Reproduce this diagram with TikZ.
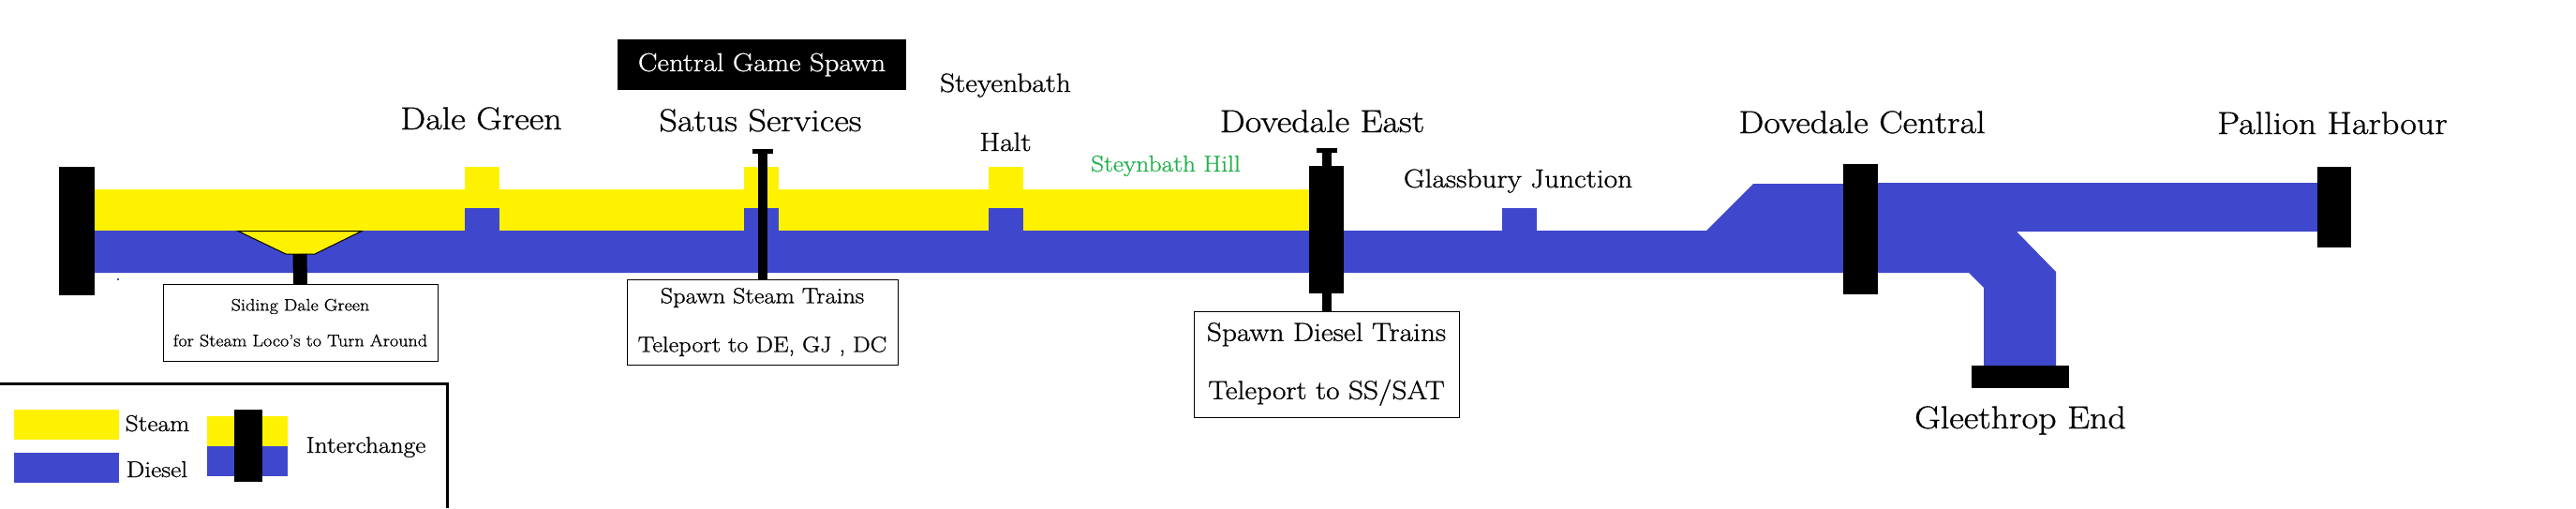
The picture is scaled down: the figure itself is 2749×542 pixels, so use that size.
\documentclass[tikz,border=0pt]{standalone}
\usepackage{tikz}
\usepackage{fontspec}
\setmainfont{Latin Modern Roman}[FakeBold=0.9, FakeStretch=1.12]
\definecolor{steamcol}{HTML}{FFF200}
\definecolor{dieselcol}{HTML}{3F48CC}
\definecolor{hillcol}{HTML}{22B14C}
\tikzset{
bar/.style={
	  fill=black, inner sep=0pt, outer sep=0pt},
stem/.style={
	  line width=10pt, black},
station/.style={
	  anchor=base, inner sep=0pt, font=\fontsize{34}{34}\selectfont},
halt/.style={
	  anchor=base, inner sep=0pt, font=\fontsize{28}{28}\selectfont},
keytext/.style={
	  anchor=base, inner sep=0pt, font=\fontsize{24.5}{24.5}\selectfont},
infobox/.style={
	  draw, fill=white, line width=1pt, align=center, inner sep=0pt, outer sep=0pt}
}
\newcommand{\stopstub}[2]{
	\fill[#2] (#1,178) rectangle ++(37,68);
	\fill[dieselcol] (#1,222) rectangle ++(37,24);
}

\begin{document}
\begin{tikzpicture}[x=1pt, y=-1pt]
	\useasboundingbox (0,0) rectangle (2749,542);
	\fill[steamcol] (101,202) rectangle (1397,246);
	\fill[dieselcol] (101,246) -- (1821,246) -- (1871,196) -- (1985,196) -- (1985,195) -- (2473,195) -- (2473,247)
		-- (2152,247) -- (2194,290) -- (2194,390) -- (2117,390) -- (2117,307)
		-- (2101,291) -- (101,291) -- cycle;
	\foreach \x in {496,794,1055}
		\stopstub{\x}{steamcol}
	\fill[dieselcol] (1603,222) rectangle (1640,246);
	\fill[dieselcol] (125,297) rectangle (127,299);
	\draw[black, line width=1pt, fill=steamcol] (254,246.5) -- (386,246.5) -- (336,271) -- (305,271) -- cycle;
	\coordinate (sidingend) at (320,271);

	\node[bar, minimum width=38, minimum height=137] (leftbar) at (82,246.5) {};
	\node[bar, minimum width=22, minimum height=5] (satustop) at (813.5,161.5) {};
	\node[bar, minimum width=37, minimum height=136] (dovebar) at (1415.5,245) {};
	\node[bar, minimum width=22, minimum height=5] (dovetop) at (1415.5,160.5) {};
	\node[bar, minimum width=37, minimum height=139] (centralbar) at (1985.5,244.5) {};
	\node[bar, minimum width=36, minimum height=86] (pallionbar) at (2491,221) {};
	\node[bar, minimum width=104, minimum height=24] (gleebar) at (2156,402) {};

	\node[infobox, minimum width=293, minimum height=81.5, font=\fontsize{18}{38}\selectfont] (sidingbox) at (320.5,344.25)
		{Siding Dale Green\\for Steam Loco's to Turn Around};
	\node[infobox, minimum width=289, minimum height=91, font=\fontsize{23.5}{52}\selectfont] (satusbox) at (813.5,343.5)
		{Spawn Steam Trains\\Teleport to DE, GJ , DC};
	\node[infobox, minimum width=283, minimum height=113, font=\fontsize{28}{62}\selectfont] (dovebox) at (1415.5,388.5)
		{Spawn Diesel Trains\\Teleport to SS/SAT};
	\draw[stem, line width=15pt] (sidingend) -- (sidingbox.north);
	\draw[stem] (satustop.south) -- (satusbox.north);
	\draw[stem] (dovetop.south) -- (dovebox.north);

	\node[bar, text=white, minimum width=308, minimum height=54, font=\fontsize{27.5}{27.5}\selectfont] (spawnlabel) at (813,69) {Central Game Spawn};
	\node[station] (dalelabel) at (513.5,138) {Dale Green};
	\node[station] (satuslabel) at (811.5,140) {Satus Services};
	\node[halt] (steyenlabel) at (1073,98) {Steyenbath};
	\node[halt] (haltlabel) at (1073,161) {Halt};
	\node[keytext, text=hillcol] (hilllabel) at (1244,183) {Steynbath Hill};
	\node[station] (dovelabel) at (1411,141) {Dovedale East};
	\node[halt] (glasslabel) at (1620,200) {Glassbury Junction};
	\node[station] (centrallabel) at (1987,142) {Dovedale Central};
	\node[station] (pallionlabel) at (2489,143) {Pallion Harbour};
	\node[station] (gleelabel) at (2156,457) {Gleethrop End};

	\draw[black, line width=3pt] (0,409.5) -| (477.5,542);
	\fill[steamcol] (15,437) rectangle (127,469);
	\fill[dieselcol] (15,483) rectangle (127,515);
	\fill[steamcol] (221,444) rectangle (307,476);
	\fill[dieselcol] (221,476) rectangle (307,508);
	\node[bar, minimum width=30, minimum height=77] (keybar) at (265,475.5) {};
	\node[keytext] (steamkey) at (168,460) {Steam};
	\node[keytext] (dieselkey) at (167.5,509) {Diesel};
	\node[keytext] (changekey) at (390.5,483) {Interchange};
\end{tikzpicture}
\end{document}
